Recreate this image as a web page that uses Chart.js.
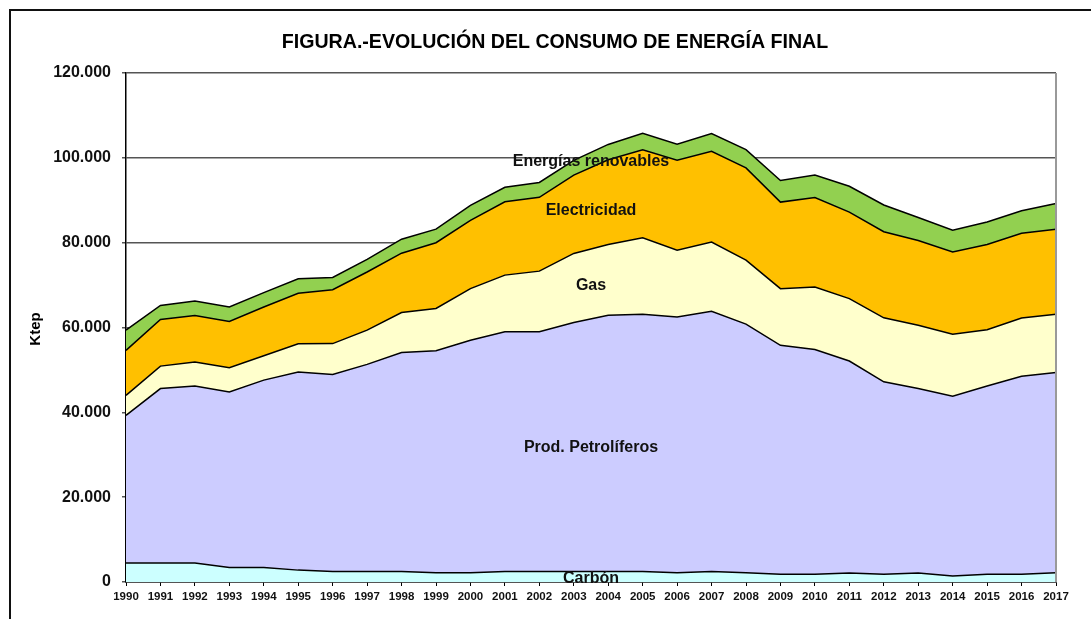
<!DOCTYPE html>
<html>
<head>
<meta charset="utf-8">
<script src="https://cdn.jsdelivr.net/npm/chart.js@4"></script>
<style>
    html, body { margin: 0; padding: 0; background: #fff; overflow: hidden; }
    #marco { position: absolute; left: 9px; top: 9px; width: 1200px; height: 800px;
             border-left: 2px solid #111; border-top: 2px solid #111; }
    #caja { position: absolute; left: 0; top: 0; width: 1091px; height: 619px; }
</style>
</head>
<body>
<div id="marco"></div>
<div id="caja"><canvas id="grafico"></canvas></div>
<script>
// datos (ktep)
const años = ['1990','1991','1992','1993','1994','1995','1996','1997','1998','1999','2000','2001','2002','2003',
              '2004','2005','2006','2007','2008','2009','2010','2011','2012','2013','2014','2015','2016','2017'];
const carbon = [4500,4500,4500,3400,3400,2800,2500,2500,2500,2200,2200,2500,2500,2500,
                2500,2500,2200,2500,2200,1800,1800,2100,1800,2100,1400,1800,1800,2200];
const petroliferos = [34800,41100,41700,41400,44200,46700,46400,48800,51600,52300,54800,56500,56500,58700,
                      60400,60600,60300,61300,58600,54000,53000,50000,45400,43500,42400,44400,46700,47200];
const gas = [4700,5300,5650,5740,5730,6680,7300,8080,9420,9980,12180,13350,14290,16260,
             16660,18070,15710,16330,15070,13360,14750,14700,15080,14920,14610,13290,13740,13740];
const electricidad = [10600,11000,11000,10900,11500,11900,12700,13700,14000,15500,16100,17300,17400,18450,
                      20000,20700,21200,21400,21750,20400,21100,20400,20300,20000,19400,20100,20000,20000];
const renovables = [4800,3300,3400,3400,3400,3400,2900,3000,3300,3200,3500,3400,3500,3500,
                    3600,3900,3800,4200,4300,5100,5300,6100,6300,5400,5100,5300,5300,6100];

// etiquetas dentro de las areas: texto y valor del eje y donde van
const rotulos = ['Energías renovables', 'Electricidad', 'Gas', 'Prod. Petrolíferos', 'Carbón'];
const rotulosY = [99000, 87600, 69800, 31800, 700];

const titulo = 'FIGURA.-EVOLUCIÓN DEL CONSUMO DE ENERGÍA FINAL';

function serie(nombre, datos, color, relleno) {
    return {
        label: nombre,
        data: datos,
        backgroundColor: color,
        borderColor: '#000',
        borderWidth: 1.5,
        pointRadius: 0,
        tension: 0,
        fill: relleno
    };
}

function miles(v) {
    return String(v).replace(/\B(?=(\d{3})+(?!\d))/g, '.');
}

const extras = {
    id: 'extras',
    afterDatasetsDraw(chart) {
        const c = chart.ctx;
        const a = chart.chartArea;
        const y = chart.scales.y;
        c.save();
        // borde derecho del area
        c.strokeStyle = '#999';
        c.lineWidth = 2;
        c.beginPath();
        c.moveTo(a.right, a.top);
        c.lineTo(a.right, a.bottom);
        c.stroke();

        c.fillStyle = '#111';
        c.textAlign = 'center';
        c.textBaseline = 'middle';
        c.font = 'bold 16px "Liberation Sans", Arial, sans-serif';
        const xc = (a.left + a.right) / 2;
        for (let i = 0; i < rotulos.length; i++) {
            c.fillText(rotulos[i], xc, y.getPixelForValue(rotulosY[i]));
        }
        c.restore();
    },
    afterDraw(chart) {
        const c = chart.ctx;
        c.save();
        c.fillStyle = '#000';
        c.textAlign = 'center';
        c.textBaseline = 'middle';
        c.font = 'bold 19.6px "Liberation Sans", Arial, sans-serif';
        c.fillText(titulo, 555, 43);
        c.translate(36, 329);
        c.rotate(-Math.PI / 2);
        c.font = 'bold 15px "Liberation Sans", Arial, sans-serif';
        c.fillText('Ktep', 0, 0);
        c.restore();
    }
};

const ctx = document.getElementById('grafico').getContext('2d');
const grafico = new Chart(ctx, {
    type: 'line',
    data: {
        labels: años,
        datasets: [
            serie('Carbón', carbon, '#CCFFFF', 'origin'),
            serie('Prod. Petrolíferos', petroliferos, '#CCCCFF', '-1'),
            serie('Gas', gas, '#FFFFCC', '-1'),
            serie('Electricidad', electricidad, '#FFC000', '-1'),
            serie('Energías renovables', renovables, '#92D050', '-1')
        ]
    },
    options: {
        responsive: true,
        maintainAspectRatio: false,
        animation: false,
        layout: { padding: { left: 0, right: 35, top: 73, bottom: 0 } },
        plugins: {
            legend: { display: false },
            tooltip: { enabled: false },
            filler: { propagate: false }
        },
        scales: {
            x: {
                offset: false,
                afterFit(s) { s.height = 37; },
                grid: { display: true, drawOnChartArea: false, drawTicks: true, tickLength: 4, color: '#000' },
                border: { color: '#000', width: 1.5 },
                ticks: {
                    autoSkip: false, maxRotation: 0, minRotation: 0, padding: 4,
                    color: '#111',
                    font: { family: '"Liberation Sans", Arial, sans-serif', size: 11.5, weight: 'bold' }
                }
            },
            y: {
                stacked: true,
                min: 0,
                max: 120000,
                afterFit(s) { s.width = 126; },
                grid: { color: '#555', lineWidth: 1.5, tickLength: 4, drawTicks: true },
                border: { color: '#000', width: 1.5 },
                ticks: {
                    stepSize: 20000, padding: 11, color: '#111',
                    font: { family: '"Liberation Sans", Arial, sans-serif', size: 16, weight: 'bold' },
                    callback: (v) => miles(v)
                }
            }
        }
    },
    plugins: [extras]
});
</script>
</body>
</html>
